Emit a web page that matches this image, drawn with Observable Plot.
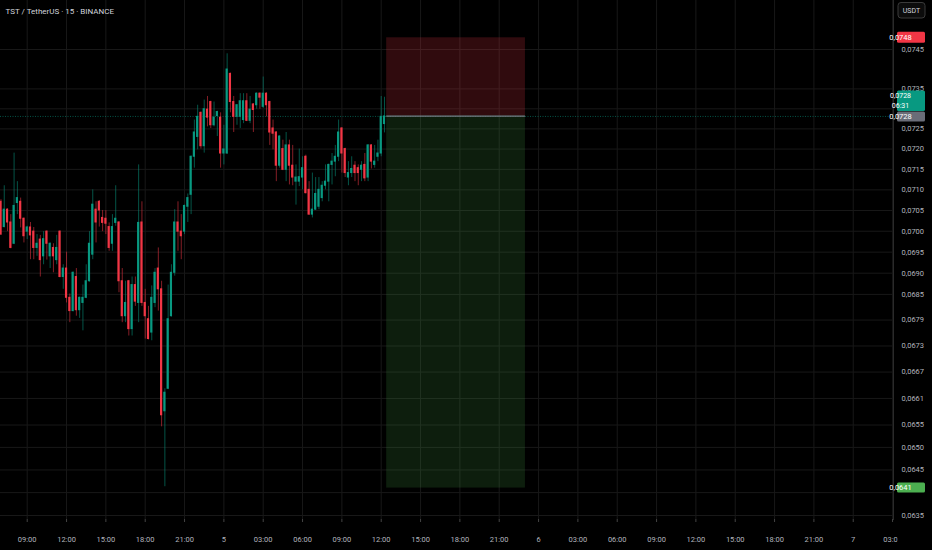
<!DOCTYPE html>
<html><head><meta charset="utf-8">
<script src="https://cdn.jsdelivr.net/npm/d3@7"></script>
<script src="https://cdn.jsdelivr.net/npm/@observablehq/plot@0.6"></script>
<style>html,body{margin:0;padding:0;background:#000;overflow:hidden}</style>
</head><body><div id="chart"></div>
<script>
const title = "TST / TetherUS · 15 · BINANCE";
const firstBar = "2025-02-04T07:00:00Z";
const barMinutes = 15;
const open = [
0.07071,0.07010,0.07052,0.07021,0.06970,0.07068,0.07071,0.07030,
0.06999,0.07009,0.06999,0.06960,0.06980,0.06940,0.06999,0.06940,0.06960,0.06931,
0.06999,0.06891,0.06911,0.06842,0.06811,0.06891,0.06813,0.06830,0.06842,0.06881,
0.06944,0.07052,0.07071,0.07032,0.07030,0.07010,0.06970,0.07020,0.07021,0.06881,
0.06799,0.06881,0.06769,0.06872,0.06830,0.07021,0.06830,0.06792,0.06761,0.06830,
0.06911,0.06862,0.06581,0.06632,0.06799,0.06901,0.07021,0.06999,0.06999,0.07059,
0.07088,0.07181,0.07230,0.07290,0.07207,0.07298,0.07317,0.07259,0.07282,0.07278,
0.07189,0.07189,0.07388,0.07317,0.07280,0.07280,0.07272,0.07319,0.07270,0.07311,
0.07309,0.07338,0.07305,0.07338,0.07317,0.07251,0.07241,0.07159,0.07200,0.07149,
0.07209,0.07159,0.07120,0.07120,0.07130,0.07181,0.07100,0.07040,0.07052,0.07059,
0.07080,0.07110,0.07120,0.07161,0.07169,0.07181,0.07251,0.07200,0.07130,0.07141,
0.07159,0.07153,0.07149,0.07161,0.07130,0.07209,0.07161,0.07181,0.07189,0.07262];
const high = [
0.07076,0.07110,0.07054,0.07040,0.07190,0.07120,0.07080,0.07032,
0.07012,0.07021,0.07009,0.06992,0.06990,0.06999,0.07001,0.06972,0.06970,0.06990,
0.07001,0.06920,0.06950,0.06851,0.06903,0.06911,0.06844,0.06872,0.06920,0.06999,
0.07100,0.07071,0.07074,0.07050,0.07050,0.07020,0.07040,0.07110,0.07023,0.06911,
0.06881,0.06883,0.06891,0.06891,0.07161,0.07071,0.06862,0.06822,0.06870,0.06911,
0.06960,0.06881,0.06632,0.06872,0.06920,0.07052,0.07071,0.07040,0.07063,0.07090,
0.07183,0.07272,0.07309,0.07292,0.07322,0.07331,0.07319,0.07317,0.07294,0.07290,
0.07259,0.07439,0.07390,0.07331,0.07311,0.07338,0.07338,0.07338,0.07331,0.07313,
0.07340,0.07340,0.07380,0.07340,0.07319,0.07272,0.07243,0.07233,0.07222,0.07241,
0.07222,0.07209,0.07161,0.07200,0.07181,0.07185,0.07120,0.07141,0.07130,0.07130,
0.07120,0.07161,0.07163,0.07189,0.07209,0.07272,0.07253,0.07202,0.07169,0.07181,
0.07169,0.07161,0.07169,0.07189,0.07211,0.07211,0.07209,0.07222,0.07331,0.07329];
const low = [
0.06990,0.07008,0.06999,0.06958,0.06968,0.07040,0.07008,0.06972,
0.06980,0.06932,0.06932,0.06940,0.06891,0.06920,0.06931,0.06911,0.06901,0.06920,
0.06889,0.06862,0.06830,0.06784,0.06809,0.06799,0.06794,0.06765,0.06840,0.06879,
0.06932,0.06972,0.07010,0.06999,0.06992,0.06952,0.06952,0.07012,0.06854,0.06784,
0.06784,0.06753,0.06753,0.06822,0.06784,0.06822,0.06746,0.06744,0.06742,0.06819,
0.06811,0.06546,0.06413,0.06630,0.06797,0.06893,0.06952,0.06932,0.06992,0.07021,
0.07040,0.07153,0.07198,0.07200,0.07190,0.07255,0.07251,0.07255,0.07231,0.07153,
0.07161,0.07187,0.07290,0.07241,0.07259,0.07251,0.07263,0.07268,0.07263,0.07241,
0.07299,0.07299,0.07301,0.07280,0.07209,0.07198,0.07120,0.07153,0.07147,0.07120,
0.07112,0.07110,0.07063,0.07108,0.07100,0.07090,0.07038,0.07032,0.07050,0.07052,
0.07071,0.07100,0.07071,0.07112,0.07132,0.07169,0.07141,0.07130,0.07110,0.07130,
0.07120,0.07110,0.07120,0.07120,0.07120,0.07151,0.07153,0.07169,0.07181,0.07240];
const close = [
0.06992,0.07052,0.07021,0.06960,0.07061,0.07080,0.07030,0.06988,
0.07009,0.06990,0.06960,0.06970,0.06931,0.06981,0.06970,0.06970,0.06940,0.06960,
0.06891,0.06911,0.06842,0.06811,0.06901,0.06813,0.06842,0.06842,0.06881,0.06970,
0.07064,0.07021,0.07050,0.07020,0.07018,0.06960,0.07010,0.07030,0.06881,0.06799,
0.06830,0.06769,0.06872,0.06833,0.07020,0.06830,0.06799,0.06746,0.06842,0.06901,
0.06862,0.06572,0.06623,0.06792,0.06901,0.07021,0.06999,0.06988,0.07061,0.07080,
0.07181,0.07241,0.07280,0.07207,0.07299,0.07278,0.07259,0.07278,0.07292,0.07189,
0.07199,0.07399,0.07317,0.07280,0.07309,0.07319,0.07319,0.07270,0.07298,0.07297,
0.07338,0.07328,0.07338,0.07309,0.07241,0.07238,0.07159,0.07231,0.07149,0.07209,
0.07159,0.07130,0.07130,0.07131,0.07153,0.07092,0.07040,0.07052,0.07090,0.07100,
0.07110,0.07120,0.07161,0.07169,0.07181,0.07241,0.07189,0.07141,0.07141,0.07151,
0.07141,0.07141,0.07159,0.07128,0.07209,0.07169,0.07169,0.07189,0.07280,0.07281];
const gridTicks = [0.0635,0.0640,0.0645,0.0650,0.0655,0.0661,0.0667,0.0673,0.0679,0.0685,
  0.0690,0.0695,0.0700,0.0705,0.0710,0.0715,0.0720,0.0725,0.0730,0.0735,0.0745];
const labelTicks = [0.0635,0.0645,0.0650,0.0655,0.0661,0.0667,0.0673,0.0679,0.0685,
  0.0690,0.0695,0.0700,0.0705,0.0710,0.0715,0.0720,0.0725,0.0735,0.0745];
const xTickStart = "2025-02-04T09:00:00Z", xTickEnd = "2025-02-07T03:00:01Z";
const viewStart = "2025-02-04T06:57:48Z", viewEnd = "2025-02-07T03:04:18Z";
const priceBottom = 0.0635, priceTop = 0.0745;
const position = {start: "2025-02-05T12:25:00Z", end: "2025-02-05T23:00:00Z", entry: 0.07282, stop: 0.0748, target: 0.0641};
const countdown = "06:31";

const UP = "#089981", DN = "#f23645";
const t0 = +new Date(firstBar);
const candles = open.map((o, i) => ({date: new Date(t0 + i * barMinutes * 60000), open: o, high: high[i], low: low[i], close: close[i]}));
const lastClose = close[close.length - 1];
const xTicks = d3.utcHour.every(3).range(new Date(xTickStart), new Date(xTickEnd));
const col = d => d.close >= d.open ? UP : DN;
const fmtP = v => v.toFixed(4).replace(".", ",");
const fmtT = d => d.getUTCHours() === 0 ? String(d.getUTCDate()) : d3.utcFormat("%H:%M")(d);
const half = 5 * 60000;
const pos = [{...position, s: new Date(position.start), e: new Date(position.end)}];

const chart = Plot.plot({
  width: 932, height: 550,
  marginLeft: 0, marginRight: 39, marginTop: 0, marginBottom: 31,
  style: {background: "#000", color: "#b2b5be", fontFamily: "Roboto, sans-serif", fontSize: "7.5px"},
  x: {type: "utc", domain: [new Date(viewStart), new Date(viewEnd)]},
  y: {type: "log", domain: [priceBottom, priceTop], range: [515, 49]},
  marks: [
    Plot.gridX(xTicks, {stroke: "#181818", strokeOpacity: 1}),
    Plot.gridY(gridTicks, {stroke: "#181818", strokeOpacity: 1}),
    Plot.rect(pos, {x1: "s", x2: "e", y1: "entry", y2: "stop", fill: "#f23645", fillOpacity: 0.2}),
    Plot.rect(pos, {x1: "s", x2: "e", y1: "target", y2: "entry", fill: "#4caf50", fillOpacity: 0.17}),
    Plot.ruleY([lastClose], {stroke: UP, strokeOpacity: 0.55, strokeDasharray: "1,1.5"}),
    Plot.ruleY(pos, {y: "entry", x1: "s", x2: "e", stroke: "#787b86", strokeWidth: 1.3}),
    Plot.ruleX(candles, {x: "date", y1: "low", y2: "high", stroke: col, strokeOpacity: 0.55}),
    Plot.rect(candles, {x1: d => new Date(+d.date - half), x2: d => new Date(+d.date + half),
      y1: d => Math.min(d.open, d.close), y2: d => Math.max(d.open, d.close), fill: col, insetTop: -0.5, insetBottom: -0.5}),
    Plot.frame({anchor: "right", stroke: "#2a2a2a"}),
    Plot.axisX(xTicks, {anchor: "bottom", tickSize: 3, tickPadding: 14, stroke: "#444", fill: "#b2b5be", tickFormat: fmtT}),
    Plot.axisY(labelTicks, {anchor: "right", tickSize: 0, tickPadding: 8, fill: "#b2b5be", tickFormat: fmtP}),
    Plot.text([title], {frameAnchor: "top-left", dx: 5, dy: 11, fill: "#d1d4dc", fontSize: 8, textAnchor: "start", lineAnchor: "middle"})
  ]
});
document.getElementById("chart").appendChild(chart);

const svg = d3.select(chart);
const ys = chart.scale("y");
const Y = v => ys.apply(v);
svg.append("defs").append("clipPath").attr("id", "clipx").append("rect")
  .attr("x", 0).attr("y", 0).attr("width", 897).attr("height", 550);
svg.selectAll('g[aria-label="x-axis tick label"]').attr("clip-path", "url(#clipx)");

const g = svg.append("g").attr("font-family", "Roboto, sans-serif").attr("font-size", 7.5);
function tag(yTop, h, fill, lines, fs) {
  g.append("rect").attr("x", 897).attr("y", yTop).attr("width", 28).attr("height", h).attr("rx", 1.5).attr("fill", fill);
  const lh = h / lines.length;
  lines.forEach((t, k) => g.append("text").attr("x", 900.5).attr("y", yTop + lh * (k + 0.5))
    .attr("dy", "0.35em").attr("fill", "#fff").attr("font-size", fs || 7.5).text(t));
}
tag(Y(position.stop) - 5.5, 11, "#f23645", [fmtP(position.stop)]);
const entryTop = Y(position.entry) - 4;
tag(entryTop, 10, "#6a6d78", [fmtP(position.entry)]);
tag(entryTop - 21, 20.5, UP, [fmtP(lastClose), countdown], 7);
tag(Y(position.target) - 5, 10, "#4caf50", [fmtP(position.target)]);

g.append("rect").attr("x", 898).attr("y", 2.5).attr("width", 27).attr("height", 15.5).attr("rx", 3)
  .attr("fill", "#0c0c0c").attr("stroke", "#3a3a3a");
g.append("text").attr("x", 911.5).attr("y", 10.3).attr("dy", "0.35em").attr("text-anchor", "middle")
  .attr("fill", "#d1d4dc").attr("font-size", 7).text("USDT");
</script>
</body></html>
